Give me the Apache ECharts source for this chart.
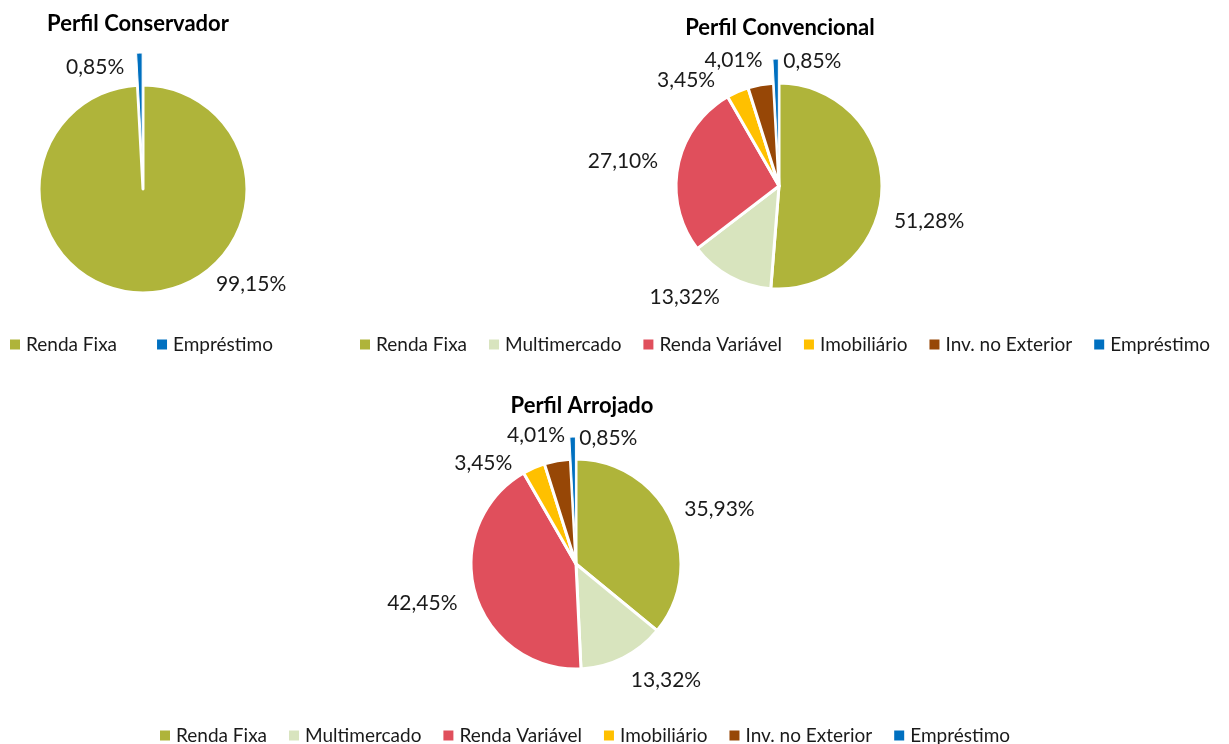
<!DOCTYPE html>
<html>
<head>
<meta charset="utf-8">
<script src="https://cdn.jsdelivr.net/npm/echarts@6/dist/echarts.min.js"></script>
<style>
  html, body { margin: 0; padding: 0; background: #fff; }
  #chart { width: 1229px; height: 744px; }
</style>
</head>
<body>
<div id="chart"></div>
<script>
// categorias
var categorias = ['Renda Fixa', 'Multimercado', 'Renda Variável', 'Imobiliário', 'Inv. no Exterior', 'Empréstimo'];
var catConservador = ['Renda Fixa', 'Empréstimo'];

// valores (%)
var conservador = [99.15, 0.85];
var convencional = [51.28, 13.32, 27.10, 3.45, 4.01, 0.85];
var arrojado = [35.93, 13.32, 42.45, 3.45, 4.01, 0.85];

var cores = {
  'Renda Fixa': '#AFB43A',
  'Multimercado': '#D8E4BE',
  'Renda Variável': '#E04F5C',
  'Imobiliário': '#FFC000',
  'Inv. no Exterior': '#974706',
  'Empréstimo': '#0070C0'
};

// ajuste fino da posição dos rótulos (estilo "melhor ajuste" do Excel)
var ajusteRotulo = [
  { 'Renda Fixa': [61, -15], 'Empréstimo': [-6, 20] },
  { 'Renda Fixa': [-3, 31], 'Multimercado': [2, 16], 'Renda Variável': [-5, -3], 'Imobiliário': [-11, -6],
    'Inv. no Exterior': [12, -19], 'Empréstimo': [75, 8] },
  { 'Renda Fixa': [-1, -7], 'Multimercado': [-4, 17], 'Renda Variável': [-3, 8], 'Imobiliário': [-10, 1],
    'Inv. no Exterior': [18, -20], 'Empréstimo': [74, 7] }
];

var fonte = 'Lato, "Noto Sans", sans-serif';

function montaDados(nomes, valores) {
  return nomes.map(function (n, i) {
    var d = {
      name: n,
      value: valores[i],
      itemStyle: { color: cores[n] }
    };
    if (n === 'Empréstimo') {
      d.selected = true;
      d.itemStyle.borderWidth = 1;
    }
    return d;
  });
}

function fmt(p) {
  return p.value.toFixed(2).replace('.', ',') + '%';
}

function pizza(idx, nomes, valores, centro, raio, offset) {
  return {
    type: 'pie',
    center: centro,
    radius: raio,
    startAngle: 90,
    clockwise: true,
    selectedMode: 'multiple',
    selectedOffset: offset,
    avoidLabelOverlap: false,
    animation: false,
    itemStyle: { borderColor: '#fff', borderWidth: 3 },
    label: {
      show: true,
      position: 'outside',
      formatter: fmt,
      color: '#1a1a1a',
      fontFamily: fonte,
      fontSize: 21
    },
    labelLine: { show: false, length: 6, length2: 4 },
    labelLayout: function (p) {
      var a = ajusteRotulo[idx][nomes[p.dataIndex]];
      return { hideOverlap: false, dx: a ? a[0] : 0, dy: a ? a[1] : 0 };
    },
    emphasis: { disabled: true },
    data: montaDados(nomes, valores)
  };
}

var legendaBase = {
  icon: 'rect',
  itemWidth: 12,
  itemHeight: 12,
  selectedMode: false,
  textStyle: { fontFamily: fonte, fontSize: 19, color: '#1a1a1a' }
};

var tituloEstilo = { fontFamily: fonte, fontWeight: 'bold', fontSize: 22, color: '#000' };

var chart = echarts.init(document.getElementById('chart'));
chart.setOption({
  backgroundColor: '#fff',
  title: [
    { text: 'Perfil Conservador', left: 133, top: 8, textAlign: 'center', textStyle: tituloEstilo },
    { text: 'Perfil Convencional', left: 775, top: 12, textAlign: 'center', textStyle: tituloEstilo },
    { text: 'Perfil Arrojado', left: 577, top: 390, textAlign: 'center', textStyle: tituloEstilo }
  ],
  legend: [
    Object.assign({}, legendaBase, { data: catConservador, left: 3, top: 330, itemGap: 38 }),
    Object.assign({}, legendaBase, { data: categorias, left: 353, top: 330, itemGap: 20 }),
    Object.assign({}, legendaBase, { data: categorias, left: 153, top: 721, itemGap: 20 })
  ],
  series: [
    pizza(0, catConservador, conservador, [143, 189], 104, 32),
    pizza(1, categorias, convencional, [779, 186], 103, 24),
    pizza(2, categorias, arrojado, [576, 564], 105, 22)
  ]
});
</script>
</body>
</html>
